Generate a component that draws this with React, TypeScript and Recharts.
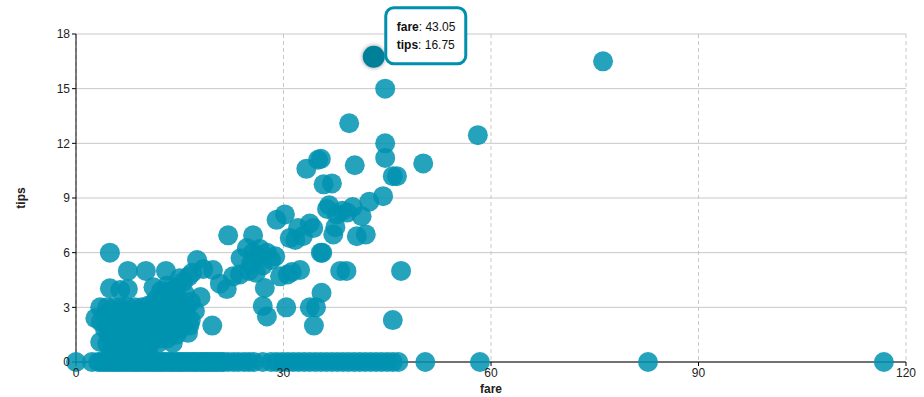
import {
  ScatterChart,
  Scatter,
  XAxis,
  YAxis,
  CartesianGrid,
} from "recharts";

// trips with a tip as [fare, tips]
const tippedTrips: [number, number][] = [
  [76.2, 16.5], [44.7, 15.0], [39.5, 13.1], [58.1, 12.45], [44.7, 12.0],
  [44.7, 11.2], [35.0, 11.1], [35.4, 11.15], [33.3, 10.6], [40.3, 10.8],
  [50.2, 10.9], [45.8, 10.2], [46.4, 10.2], [35.8, 9.75], [37.0, 9.8],
  [44.4, 9.1], [42.4, 8.8], [36.3, 8.4], [37.7, 8.1], [39.2, 8.2],
  [40.0, 8.5], [41.3, 8.0], [38.5, 8.3], [36.6, 8.6],
  [29.0, 7.8], [30.2, 8.1], [32.1, 7.35], [33.8, 7.6], [34.3, 7.35],
  [31.7, 6.7], [30.9, 6.8], [32.8, 6.9], [37.2, 7.0], [37.5, 7.4],
  [40.6, 6.9], [41.9, 7.0], [35.6, 6.0], [35.4, 6.0],
  [38.2, 5.0], [39.1, 5.0], [47.0, 5.0], [32.4, 5.05], [31.2, 4.94],
  [30.6, 4.8], [29.5, 4.7], [35.5, 3.8], [33.8, 3.0], [34.7, 3.0],
  [34.4, 2.0], [30.4, 3.0], [27.0, 3.07], [27.6, 2.5], [45.8, 2.3],
  [27.3, 4.06],
  [22.0, 6.95], [25.6, 6.95], [24.7, 6.25], [26.6, 6.2], [23.8, 5.7],
  [25.3, 5.4], [25.6, 6.0], [26.3, 5.8], [27.0, 5.3], [27.6, 6.0],
  [28.2, 5.6], [28.8, 5.8], [26.0, 4.9], [25.0, 5.0],
  [17.5, 5.6], [18.4, 5.1], [19.8, 5.05], [20.8, 4.3], [21.8, 4.0],
  [22.7, 4.7], [23.7, 4.8], [18.0, 3.57], [19.7, 2.0], [16.2, 1.6],
  [4.9, 6.0], [7.5, 5.0], [10.1, 5.0], [13.0, 5.0], [4.9, 4.05],
  [6.4, 3.95], [7.5, 4.0], [11.2, 4.1], [2.8, 2.4], [3.5, 3.0],
  [3.5, 1.1], [11.9, 1.05], [14.0, 1.05],
  // the dense block of short trips
  [4.5, 3.0], [5.5, 3.0], [6.5, 3.0], [7.5, 3.0], [8.5, 3.0], [9.5, 3.0],
  [10.5, 3.1], [11.5, 3.4], [12.5, 3.6], [13.5, 3.9], [14.5, 4.1],
  [15.5, 4.4], [16.3, 4.7], [16.8, 4.9], [14.8, 3.5], [15.8, 3.7],
  [16.6, 3.3], [17.2, 2.8], [12.0, 3.2], [13.0, 3.3], [14.0, 3.2],
  [15.2, 3.1], [16.0, 3.0], [13.2, 4.2], [12.3, 3.9], [15.0, 4.6],
  [5.0, 2.75], [6.0, 2.75], [7.0, 2.75], [8.0, 2.75], [9.0, 2.75],
  [10.0, 2.75], [11.0, 2.8], [12.0, 2.8], [13.0, 2.9], [14.2, 3.0],
  [4.8, 2.5], [5.8, 2.5], [6.8, 2.5], [7.8, 2.5], [8.8, 2.5], [9.8, 2.5],
  [10.8, 2.5], [11.8, 2.5], [12.8, 2.6], [13.8, 2.7], [14.8, 2.8], [15.8, 2.5],
  [16.6, 2.3], [16.4, 2.0], [5.2, 2.25], [6.2, 2.25], [7.2, 2.25],
  [8.2, 2.25], [9.2, 2.25], [10.2, 2.25], [11.2, 2.25], [12.2, 2.25],
  [13.2, 2.3], [14.2, 2.3], [15.2, 2.4],
  [4.5, 2.0], [5.5, 2.0], [6.5, 2.0], [7.5, 2.0], [8.5, 2.0], [9.5, 2.0],
  [10.5, 2.0], [11.5, 2.0], [12.5, 2.0], [13.5, 2.1], [14.5, 2.0], [15.5, 2.2],
  [5.0, 1.75], [6.0, 1.75], [7.0, 1.75], [8.0, 1.75], [9.0, 1.75],
  [10.0, 1.75], [11.0, 1.75], [12.0, 1.75], [13.0, 1.8], [14.0, 1.8], [15.0, 1.8],
  [4.8, 1.5], [5.8, 1.5], [6.8, 1.5], [7.8, 1.5], [8.8, 1.5], [9.8, 1.5],
  [10.8, 1.5], [11.8, 1.5], [12.8, 1.5], [13.8, 1.6], [14.5, 1.5],
  [5.0, 1.25], [6.0, 1.25], [7.0, 1.25], [8.0, 1.25], [9.0, 1.25],
  [10.0, 1.25], [11.0, 1.25], [12.2, 1.3], [13.2, 1.3],
  [4.5, 1.0], [5.5, 1.0], [6.5, 1.0], [7.5, 1.0], [8.5, 1.0], [9.5, 1.0],
  [10.5, 1.0], [5.0, 0.5], [6.0, 0.5], [7.0, 0.5], [8.0, 0.5], [9.0, 0.5],
  [10.0, 0.5], [5.5, 0.75], [6.5, 0.75], [7.5, 0.75], [8.5, 0.75],
  [9.5, 0.75], [10.5, 0.75], [4.2, 1.8], [4.2, 2.6], [3.6, 2.2],
];

// trips with no tip
const untippedFares = [
  0, 2.3, 3.2, 4.0, 4.8, 5.5, 6.2, 7.0, 7.8, 8.5, 9.2, 10.0, 10.8, 11.5,
  12.2, 13.0, 13.8, 14.5, 15.2, 16.0, 16.8, 17.5, 18.3, 19.0, 19.8, 20.5,
  21.3, 22.0, 22.8, 23.5, 24.3, 25.0, 25.7, 27.0, 28.2, 29.0, 29.8, 30.6,
  31.4, 32.2, 33.0, 33.8, 34.6, 35.4, 36.2, 37.0, 37.8, 38.6, 39.4, 40.2,
  41.0, 41.8, 42.6, 43.4, 44.2, 45.0, 45.8, 46.6, 50.5, 58.4, 82.7, 116.8,
  3.6, 4.4, 5.2, 5.9, 6.6, 7.4, 8.2, 8.9, 9.6, 10.4, 11.2, 11.9, 12.6,
  13.4, 14.1, 14.9, 15.6, 16.4, 17.2, 18.0, 18.7, 19.4, 20.2, 21.0,
];

const hovered = { fare: 43.05, tips: 16.75 };

const fareTicks = [0, 30, 60, 90, 120];
const tipTicks = [0, 3, 6, 9, 12, 15, 18];

const trips = [
  ...untippedFares.map((fare) => ({ fare, tips: 0 })),
  ...tippedTrips.map(([fare, tips]) => ({ fare, tips })),
];

const dot = (p: any) => (
  <circle cx={p.cx} cy={p.cy} r={10} fill="#0093b0" fillOpacity={0.85} />
);

const hoverDot = (p: any) => (
  <g>
    <defs>
      <filter id="dotShadow" x="-50%" y="-50%" width="200%" height="200%">
        <feDropShadow dx="0" dy="0" stdDeviation="2" floodColor="#000" floodOpacity="0.45" />
      </filter>
    </defs>
    <circle cx={p.cx} cy={p.cy} r={11} fill="#007f99" filter="url(#dotShadow)" />
    <rect
      x={p.cx + 12}
      y={p.cy - 49}
      width={80}
      height={56}
      rx={8}
      fill="#fff"
      stroke="#0090ad"
      strokeWidth={3}
    />
    <text x={p.cx + 23} y={p.cy - 26} fontSize={12} fill="#111">
      <tspan fontWeight="bold">fare</tspan>: {hovered.fare.toFixed(2)}
    </text>
    <text x={p.cx + 23} y={p.cy - 8} fontSize={12} fill="#111">
      <tspan fontWeight="bold">tips</tspan>: {hovered.tips.toFixed(2)}
    </text>
  </g>
);

const tickStyle = { fontSize: 12, fill: "#222" };
const labelStyle = { fontSize: 12, fontWeight: "bold", fill: "#222" };

export default function App() {
  return (
    <div style={{ position: "absolute", left: 0, top: 0, fontFamily: "'Liberation Sans', Arial, sans-serif" }}>
      <ScatterChart
        width={924}
        height={397}
        margin={{ top: 34, right: 18, bottom: 0, left: 16 }}
      >
        <CartesianGrid vertical={false} stroke="#c8c8c8" />
        <CartesianGrid horizontal={false} stroke="#c8c8c8" strokeDasharray="4 3" />
        <XAxis
          type="number"
          dataKey="fare"
          domain={[0, 120]}
          ticks={fareTicks}
          interval={0}
          height={35}
          tickSize={4}
          tick={tickStyle}
          axisLine={{ stroke: "#000" }}
          tickLine={{ stroke: "#000" }}
          label={{ value: "fare", position: "insideBottom", offset: 4, style: labelStyle }}
        />
        <YAxis
          type="number"
          dataKey="tips"
          domain={[0, 18]}
          ticks={tipTicks}
          interval={0}
          width={60}
          tickSize={4}
          tick={tickStyle}
          axisLine={{ stroke: "#000" }}
          tickLine={{ stroke: "#000" }}
          label={{
            value: "tips",
            angle: -90,
            position: "insideLeft",
            offset: 5,
            style: { ...labelStyle, textAnchor: "middle" },
          }}
        />
        <Scatter data={trips} shape={dot} isAnimationActive={false} />
        <Scatter data={[hovered]} shape={hoverDot} isAnimationActive={false} />
      </ScatterChart>
    </div>
  );
}
